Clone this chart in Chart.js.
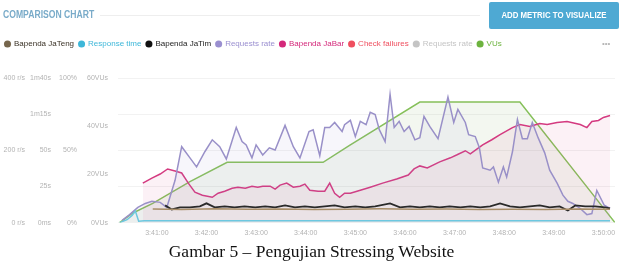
<!DOCTYPE html>
<html>
<head>
<meta charset="utf-8">
<script src="https://cdn.jsdelivr.net/npm/chart.js@4.4.1/dist/chart.umd.min.js"></script>
<style>
  html, body { margin: 0; padding: 0; background: #fff; }
  #wrap { position: relative; width: 623px; height: 266px; overflow: hidden; font-family: "Liberation Sans", sans-serif; }
  #myChart { position: absolute; left: 0; top: 0; }
  .title { position: absolute; left: 3px; top: 8px; font-size: 10.5px; font-weight: bold; color: #79abc9; white-space: nowrap; transform: scaleX(0.82); transform-origin: left center; }
  .rule { position: absolute; left: 100px; top: 15px; width: 380px; height: 1px; background: #eee; }
  .btn { position: absolute; left: 489px; top: 2px; width: 130px; height: 27px; background: #4ea9d3; border-radius: 2px; }
  .btn span { display: block; color: #fff; font-size: 9px; font-weight: bold; text-align: center; line-height: 27px; white-space: nowrap; transform: scaleX(0.87); }
  .more { position: absolute; left: 602px; top: 39px; font-size: 8px; color: #b5b5b5; }
  .caption { position: absolute; left: 0; width: 623px; top: 241px; text-align: center; font-family: "Liberation Serif", "Times New Roman", serif; font-size: 17.5px; color: #111; white-space: nowrap; }
</style>
</head>
<body>
<div id="wrap">
  <canvas id="myChart" width="623" height="266"></canvas>
  <div class="title">COMPARISON CHART</div>
  <div class="rule"></div>
  <div class="btn"><span>ADD METRIC TO VISUALIZE</span></div>
  <div class="more">•••</div>
  <div class="caption">Gambar 5 – Pengujian Stressing Website</div>
</div>
<script>
// time = seconds after 3:40:00
const timeTicks = [60, 120, 180, 240, 300, 360, 420, 480, 540, 600];
const timeLabels = ["3:41:00", "3:42:00", "3:43:00", "3:44:00", "3:45:00", "3:46:00", "3:47:00", "3:48:00", "3:49:00", "3:50:00"];

const rsLabels = ["0 r/s", "200 r/s", "400 r/s"];
const durLabels = ["0ms", "25s", "50s", "1m15s", "1m40s"];
const pctLabels = ["0%", "50%", "100%"];
const vuLabels = ["0VUs", "20VUs", "40VUs", "60VUs"];

// VUs
const vuTimes = [15, 31, 55, 100, 145, 261, 293, 378, 499, 575, 614];
const vuValues = [0, 4, 8, 17, 25, 25, 32, 50, 50, 17, 0];

// Response time (s)
const rtTimes = [15, 24, 30, 34, 38, 45, 60, 150, 300, 450, 560, 608];
const rtValues = [0, 2, 5, 8, 1, 1.2, 1.2, 1.3, 1.2, 1.3, 1.2, 1.2];

// Requests rate (r/s)
const reqTimes = [18, 27, 37, 46, 54, 64, 72, 82, 90, 100, 108, 118, 127, 136, 144, 156, 163, 168, 175, 180,
  188, 196, 203, 215, 225, 233, 244, 249, 257, 263, 269, 275, 284, 287, 294, 300, 306, 313, 318, 324,
  329, 336, 342, 347, 353, 359, 365, 372, 378, 383, 390, 400, 412, 419, 424, 433, 437, 445, 450, 454,
  463, 467, 473, 479, 483, 490, 496, 502, 508, 514, 521, 529, 535, 544, 551, 557, 563, 572, 580, 586,
  592, 601, 608];
const reqValues = [6, 22, 42, 53, 59, 56, 42, 117, 210, 179, 154, 196, 229, 210, 176, 263, 224, 215, 179, 215,
  187, 207, 201, 269, 210, 179, 252, 257, 185, 263, 263, 277, 252, 271, 283, 238, 280, 271, 305, 299,
  257, 224, 355, 263, 280, 252, 266, 229, 235, 294, 266, 232, 347, 277, 313, 277, 243, 238, 207, 151,
  145, 154, 112, 154, 126, 196, 285, 232, 232, 277, 235, 193, 145, 109, 76, 59, 53, 39, 22, 25,
  89, 48, 39];

// Bapenda JaBar (s)
const jabarTimes = [43, 54, 64, 73, 82, 90, 98, 106, 115, 127, 134, 142, 151, 158, 167, 175, 182, 188, 197, 203,
  209, 217, 225, 233, 239, 245, 255, 263, 269, 275, 281, 287, 294, 306, 318, 333, 350, 364, 371, 378,
  387, 402, 415, 423, 433, 439, 454, 465, 475, 490, 499, 511, 523, 532, 544, 556, 572, 580, 586, 594,
  600, 604, 608];
const jabarValues = [27.3, 30.8, 33.6, 37.1, 35.7, 34.3, 27.3, 21.0, 18.9, 17.5, 20.3, 21.7, 23.8, 24.5, 23.8, 25.2, 24.5, 25.2, 25.2, 23.1,
  25.9, 27.3, 24.5, 25.2, 26.6, 22.4, 21.7, 21.7, 27.3, 20.3, 17.5, 20.3, 20.3, 22.4, 24.5, 27.3, 30.1, 32.9, 37.1, 39.2,
  37.8, 42.0, 44.8, 46.9, 49.7, 47.6, 53.8, 57.3, 60.8, 65.7, 67.8, 66.4, 68.5, 67.8, 69.2, 69.9, 67.8, 65.7, 69.9, 70.6,
  72.7, 73.4, 74.1];

// Bapenda JaTim (s)
const jatimTimes = [70, 78, 88, 100, 112, 120, 130, 142, 154, 166, 179, 191, 203, 215, 227, 239, 251, 263, 275, 287,
  300, 312, 324, 342, 354, 366, 378, 390, 402, 414, 427, 439, 451, 463, 475, 487, 499, 511, 523, 535,
  547, 557, 566, 578, 590, 602, 608];
const jatimValues = [11.9, 9.1, 10.5, 10.5, 11.2, 13.3, 10.5, 11.2, 10.5, 11.2, 10.5, 11.2, 10.5, 11.9, 10.5, 11.2, 10.5, 11.2, 11.9, 10.5,
  11.2, 10.5, 11.2, 13.3, 10.5, 11.2, 10.5, 11.2, 10.5, 11.2, 10.5, 11.2, 10.5, 11.2, 13.3, 11.2, 10.5, 11.2, 11.9, 10.5,
  11.2, 8.4, 11.9, 11.2, 11.2, 10.5, 9.8];

// Bapenda JaTeng (s)
const jatengTimes = [55, 90, 130, 170, 210, 250, 290, 330, 370, 410, 450, 490, 530, 570, 608];
const jatengValues = [9.4, 9.1, 9.5, 9.2, 9.4, 9.0, 9.3, 9.5, 9.2, 9.4, 9.1, 9.3, 9.0, 9.4, 9.2];

const pts = (t, v) => t.map((x, i) => ({ x: x, y: v[i] }));

const legendText = ["#3a3226", "#3db7d9", "#222222", "#9a8fd0", "#d4287a", "#ef4f5f", "#c4c4c4", "#6db33f"];
const legendDot = ["#76664c", "#3db7d9", "#111111", "#9a8fd0", "#d4287a", "#ef4f5f", "#c4c4c4", "#6db33f"];

const legendMargin = {
  id: "legendMargin",
  beforeInit(chart) {
    const fit = chart.legend.fit;
    chart.legend.fit = function () {
      fit.bind(chart.legend)();
      this.height += 20;
    };
  },
};

const tickFont = { family: "'Liberation Sans', sans-serif", size: 7 };
const tickColor = "#b3b3b3";
const noGrid = { display: false, drawTicks: false, tickLength: 0 };

const ctx = document.getElementById("myChart").getContext("2d");
new Chart(ctx, {
  type: "line",
  data: {
    datasets: [
      { label: "Bapenda JaTeng", data: pts(jatengTimes, jatengValues), borderColor: "#a88d68", yAxisID: "yDur" },
      { label: "Response time", data: pts(rtTimes, rtValues), borderColor: "#6cc8e0", yAxisID: "yDur" },
      { label: "Bapenda JaTim", data: pts(jatimTimes, jatimValues), borderColor: "#2a2a2a", borderWidth: 1.8, yAxisID: "yDur" },
      { label: "Requests rate", data: pts(reqTimes, reqValues), borderColor: "#9990c8", backgroundColor: "rgba(150,140,200,0.08)", fill: "origin", yAxisID: "yRs" },
      { label: "Bapenda JaBar", data: pts(jabarTimes, jabarValues), borderColor: "#d43a80", backgroundColor: "rgba(214,58,128,0.07)", fill: "origin", yAxisID: "yDur" },
      { label: "Check failures", data: [], borderColor: "#ef4f5f", yAxisID: "yPct" },
      { label: "Requests rate", data: [], borderColor: "#c4c4c4", yAxisID: "yRs" },
      { label: "VUs", data: pts(vuTimes, vuValues), borderColor: "#86c05a", backgroundColor: "rgba(140,180,110,0.10)", fill: "origin", yAxisID: "yVu" },
    ],
  },
  plugins: [legendMargin],
  options: {
    responsive: false,
    animation: false,
    layout: { padding: { left: 0, right: 8, top: 35, bottom: 23 } },
    elements: {
      point: { radius: 0 },
      line: { borderWidth: 1.5, tension: 0 },
    },
    plugins: {
      tooltip: { enabled: false },
      legend: {
        position: "top",
        align: "start",
        labels: {
          usePointStyle: true,
          pointStyle: "circle",
          boxWidth: 5,
          boxHeight: 5,
          padding: 5,
          font: { family: "'Liberation Sans', sans-serif", size: 8 },
          generateLabels(chart) {
            const items = Chart.defaults.plugins.legend.labels.generateLabels(chart);
            items.forEach((it, i) => {
              it.fontColor = legendText[i];
              it.fillStyle = legendDot[i];
              it.strokeStyle = legendDot[i];
              it.lineWidth = 0;
            });
            return items;
          },
        },
      },
    },
    scales: {
      x: {
        type: "linear",
        min: 13,
        max: 614,
        afterBuildTicks(scale) {
          scale.ticks = timeTicks.map((v) => ({ value: v }));
        },
        ticks: {
          callback: (v, i) => timeLabels[i],
          font: tickFont,
          color: tickColor,
          padding: 6,
          maxRotation: 0,
          autoSkip: false,
        },
        grid: noGrid,
        border: { display: false },
      },
      yRs: {
        position: "left",
        weight: 4,
        min: 0,
        max: 400,
        afterBuildTicks(scale) {
          scale.ticks = [0, 200, 400].map((v) => ({ value: v }));
        },
        ticks: { callback: (v, i) => rsLabels[i], font: tickFont, color: tickColor, padding: 5 },
        grid: noGrid,
        border: { display: false },
        afterFit(scale) { scale.width = 30; },
      },
      yDur: {
        position: "left",
        weight: 3,
        min: 0,
        max: 100,
        afterBuildTicks(scale) {
          scale.ticks = [0, 25, 50, 75, 100].map((v) => ({ value: v }));
        },
        ticks: { callback: (v, i) => durLabels[i], font: tickFont, color: tickColor, padding: 5 },
        grid: { color: "#f2f2f2", drawTicks: false, tickLength: 0 },
        border: { display: false },
        afterFit(scale) { scale.width = 26; },
      },
      yPct: {
        position: "left",
        weight: 2,
        min: 0,
        max: 100,
        afterBuildTicks(scale) {
          scale.ticks = [0, 50, 100].map((v) => ({ value: v }));
        },
        ticks: { callback: (v, i) => pctLabels[i], font: tickFont, color: tickColor, padding: 5 },
        grid: noGrid,
        border: { display: false },
        afterFit(scale) { scale.width = 26; },
      },
      yVu: {
        position: "left",
        weight: 1,
        min: 0,
        max: 60,
        afterBuildTicks(scale) {
          scale.ticks = [0, 20, 40, 60].map((v) => ({ value: v }));
        },
        ticks: { callback: (v, i) => vuLabels[i], font: tickFont, color: tickColor, padding: 10 },
        grid: noGrid,
        border: { display: false },
        afterFit(scale) { scale.width = 36; },
      },
    },
  },
});
</script>
</body>
</html>
